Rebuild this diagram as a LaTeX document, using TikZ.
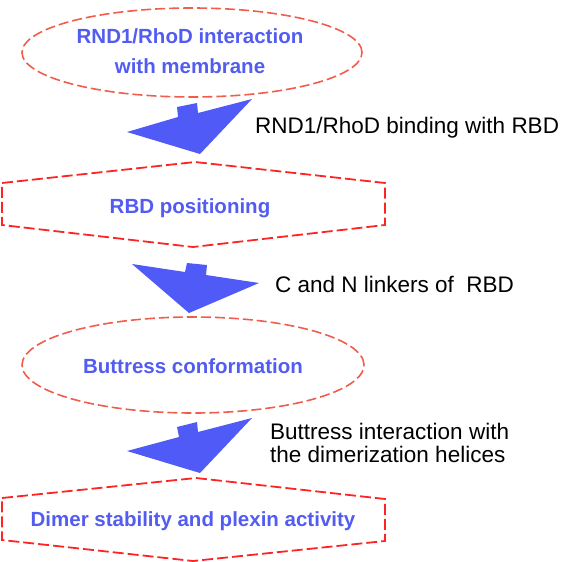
\documentclass[tikz,border=0pt]{standalone}
\usepackage{fontspec}
\setmainfont{Liberation Sans}
\usetikzlibrary{shapes.geometric}
\definecolor{ellcol}{RGB}{242,92,76}
\definecolor{hexcol}{RGB}{255,36,36}
\definecolor{bluetxt}{RGB}{82,92,240}
\definecolor{bluefill}{RGB}{80,90,246}
\tikzset{
  ellbox/.style={ellipse, draw=ellcol, line width=1.6pt, dash pattern=on 10pt off 4pt, inner sep=0pt},
  hexline/.style={draw=hexcol, line width=1.8pt, dash pattern=on 11pt off 4pt},
  bluelabel/.style={text=bluetxt, font=\bfseries\fontsize{20.5}{30}\selectfont, align=center, inner sep=0pt},
  blacklabel/.style={text=black, font=\fontsize{22.5}{23}\selectfont, align=left, inner sep=0pt},
  arrowshape/.style={fill=bluefill, draw=none}
}
\begin{document}
\begin{tikzpicture}[x=1pt,y=-1pt]
\useasboundingbox (0,0) rectangle (561,562);
% box 1: ellipse
\node[ellbox, minimum width=340pt, minimum height=89pt] (e1) at (192,52.5) {};
\node[bluelabel] (t1) at (190,51.5) {RND1/RhoD interaction\\with membrane};
% arrow 1
\fill[arrowshape] (127,132) -- (178,117) -- (177,107) -- (197,103) -- (198,113) -- (252,99) -- (200,154) -- cycle;
\node[blacklabel, anchor=base west] (l1) at (255,133) {RND1/RhoD binding with RBD};
% box 2: hexagon
\draw[hexline] (2,183) -- (195,162) -- (385,183) -- (385,225) -- (193,247) -- (2,225) -- cycle;
\node[bluelabel, anchor=base] (t2) at (190,213) {RBD positioning};
% arrow 2
\fill[arrowshape] (132,264) -- (185,272) -- (187,263) -- (207,265) -- (206,275) -- (259,283) -- (189,313) -- cycle;
\node[blacklabel, anchor=base west] (l2) at (275,292) {C and N linkers of \ RBD};
% box 3: ellipse
\node[ellbox, minimum width=342pt, minimum height=96pt] (e3) at (193,365) {};
\node[bluelabel, anchor=base] (t3) at (193,373) {Buttress conformation};
% arrow 3
\fill[arrowshape] (127,451) -- (179,437) -- (177,427) -- (197,422) -- (198,432) -- (252,418) -- (200,473) -- cycle;
\node[blacklabel, anchor=north west] (l3) at (270,423) {Buttress interaction with\\the dimerization helices};
% box 4: hexagon
\draw[hexline] (2,498) -- (196,478) -- (385,499) -- (385,541) -- (193,561) -- (2,540) -- cycle;
\node[bluelabel, anchor=base] (t4) at (193,526) {Dimer stability and plexin activity};
\end{tikzpicture}
\end{document}
